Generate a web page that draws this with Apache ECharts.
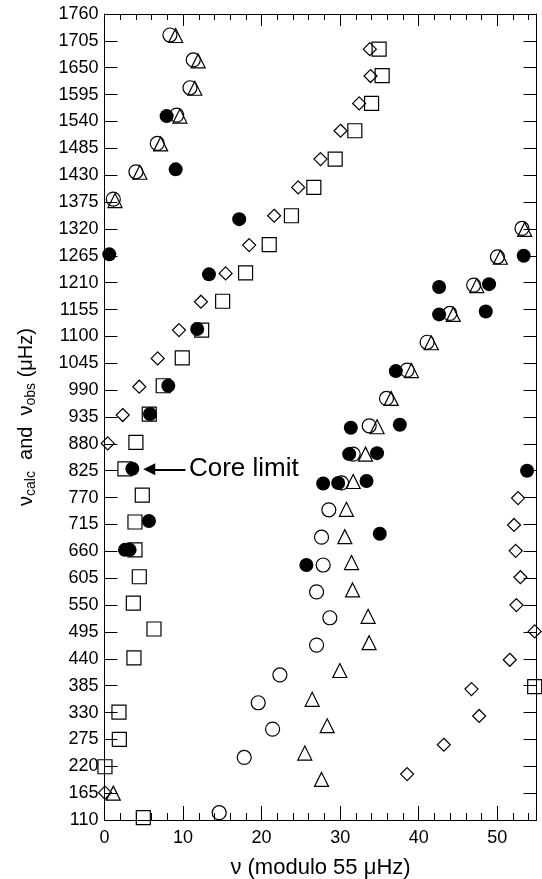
<!DOCTYPE html>
<html>
<head>
<meta charset="utf-8">
<script src="https://cdn.jsdelivr.net/npm/echarts@6/dist/echarts.min.js"></script>
<style>
html,body{margin:0;padding:0;background:#fff;}
#chart{width:542px;height:879px;}
</style>
</head>
<body>
<div id="chart"></div>
<script>
// ---- data (x = nu modulo 55 uHz, y = nu in uHz) ----
const openCircles = [
  [8.33,1717],[11.3,1666],[10.88,1609],[9.19,1553],[6.72,1495],[4.0,1437],[1.12,1381],
  [53.15,1321],[50.03,1263],[47.0,1205],[43.96,1147],[41.07,1088],[38.53,1031],[35.9,973],
  [33.7,917],[31.66,859],[30.18,800],[28.56,745],[27.63,689],[27.84,632],[27.0,577],
  [28.69,524],[27.0,468],[22.33,407],[19.57,350],[21.4,296],[17.79,238],[14.6,125]
];
const openTriangles = [
  [9.06,1716],[11.93,1664],[11.5,1608],[9.6,1551],[7.15,1494],[4.5,1436],[1.34,1378],
  [53.5,1319],[50.4,1262],[47.4,1204],[44.4,1145],[41.6,1087],[39.08,1030],[36.5,973],
  [34.7,915],[33.23,859],[31.66,803],[30.8,746],[30.6,690],[31.45,637],[31.58,581],
  [33.56,527],[33.69,473],[29.96,416],[26.44,357],[28.35,303],[25.5,247],[27.63,193],[1.12,165]
];
const openDiamonds = [
  [33.78,1688],[33.87,1633],[32.42,1577],[30.05,1521],[27.5,1463],[24.66,1405],[21.6,1347],
  [18.42,1287],[15.42,1229],[12.28,1171],[9.48,1113],[6.77,1055],[4.43,997],[2.32,939],[0.41,881],
  [52.65,769],[52.14,714],[52.35,661],[52.95,607],[52.44,550],[54.77,496],[51.6,438],
  [46.72,378],[47.7,323],[43.2,264],[38.53,204],[0.06,166]
];
const openSquares = [
  [34.96,1688],[35.35,1634],[34.0,1577],[31.87,1521],[29.37,1463],[26.65,1405],[23.8,1347],
  [20.97,1288],[17.96,1230],[15.04,1172],[12.37,1113],[9.9,1056],[7.48,999],[5.7,941],[4.0,883],
  [2.6,829],[4.81,775],[3.88,720],[3.88,663],[4.43,608],[3.67,554],[6.3,501],[3.75,442],
  [1.84,331],[1.89,275],[0.06,219],[4.94,115],[54.77,383]
];
const filledCircles = [
  [7.91,1551],[9.06,1442],[17.15,1340],[0.61,1268],[13.3,1227],[53.37,1265],[48.96,1207],
  [42.6,1201],[42.6,1145],[48.54,1151],[11.8,1115],[37.09,1029],[8.12,999],[5.79,941],
  [31.36,913],[37.6,919],[31.15,859],[34.7,861],[3.54,829],[53.8,825],[27.84,799],[29.75,800],
  [33.36,804],[5.66,722],[35.05,696],[2.6,663],[3.2,663],[25.7,632]
];
const xTicks = [0,10,20,30,40,50];
const yMin = 110, yMax = 1760, yStep = 55;
const xMin = 0, xMax = 55;
const annotationText = 'Core limit';

const FONT = '"Liberation Sans", Arial, Helvetica, sans-serif';
const chart = echarts.init(document.getElementById('chart'));

function openSeries(data, symbol, size) {
  return {
    type: 'scatter', data: data, symbol: symbol, symbolSize: size,
    xAxisIndex: 0, yAxisIndex: 0, silent: true,
    itemStyle: { color: 'rgba(0,0,0,0)', borderColor: '#000', borderWidth: 1.2, opacity: 1 }
  };
}
const tickStyle = { color: '#000', width: 1 };

const option = {
  animation: false,
  backgroundColor: '#fff',
  grid: { left: 104.5, right: 5.5, top: 14, bottom: 59, containLabel: false, outerBoundsMode: 'none' },
  xAxis: [
    { type: 'value', min: xMin, max: xMax, interval: 10, position: 'bottom',
      axisLine: { show: true, onZero: false, lineStyle: tickStyle },
      axisTick: { show: true, inside: true, length: 14, lineStyle: tickStyle },
      splitLine: { show: false },
      axisLabel: { show: true, margin: 9, fontSize: 18, color: '#000', fontFamily: FONT,
        formatter: v => (xTicks.indexOf(v) >= 0 ? String(v) : '') },
      name: 'ν (modulo 55 μHz)', nameLocation: 'middle', nameGap: 37,
      nameTextStyle: { fontSize: 22, color: '#000', fontFamily: FONT } },
    { type: 'value', min: xMin, max: xMax, interval: 2, position: 'bottom',
      axisLine: { show: false }, axisLabel: { show: false }, splitLine: { show: false },
      axisTick: { show: true, inside: true, length: 7, lineStyle: tickStyle } },
    { type: 'value', min: xMin, max: xMax, interval: 10, position: 'top',
      axisLine: { show: true, onZero: false, lineStyle: tickStyle },
      axisTick: { show: true, inside: true, length: 12, lineStyle: tickStyle },
      axisLabel: { show: false }, splitLine: { show: false } },
    { type: 'value', min: xMin, max: xMax, interval: 2, position: 'top',
      axisLine: { show: false }, axisLabel: { show: false }, splitLine: { show: false },
      axisTick: { show: true, inside: true, length: 6, lineStyle: tickStyle } }
  ],
  yAxis: [
    { type: 'value', min: yMin, max: yMax, interval: yStep, position: 'left',
      axisLine: { show: true, onZero: false, lineStyle: tickStyle },
      axisTick: { show: true, inside: true, length: 13, lineStyle: tickStyle },
      splitLine: { show: false },
      axisLabel: { show: true, margin: 6, fontSize: 18, color: '#000', fontFamily: FONT, interval: 0,
        formatter: v => String(v) },
      name: '{n|ν}{s|calc}{n|  and  ν}{s|obs}{n| (μHz)}',
      nameLocation: 'middle', nameRotate: 90, nameGap: 66,
      nameTextStyle: { color: '#000', fontFamily: FONT,
        rich: {
          n: { fontSize: 20, lineHeight: 22, verticalAlign: 'top', fontFamily: FONT, color: '#000' },
          s: { fontSize: 14, lineHeight: 16, verticalAlign: 'bottom', padding: [10, 0, 0, 0], fontFamily: FONT, color: '#000' }
        } } },
    { type: 'value', min: yMin, max: yMax, interval: yStep, position: 'right',
      axisLine: { show: true, onZero: false, lineStyle: tickStyle },
      axisTick: { show: true, inside: true, length: 13, lineStyle: tickStyle },
      axisLabel: { show: false }, splitLine: { show: false } }
  ],
  series: [
    openSeries(openSquares, 'rect', 14),
    openSeries(openDiamonds, 'diamond', 13),
    openSeries(openCircles, 'circle', 14),
    openSeries(openTriangles, 'triangle', 14),
    { type: 'scatter', data: filledCircles, symbol: 'circle', symbolSize: 14,
      xAxisIndex: 0, yAxisIndex: 0, silent: true,
      itemStyle: { color: '#000', opacity: 1 },
      markLine: {
        silent: true, symbol: ['none', 'triangle'], symbolSize: 12,
        lineStyle: { color: '#000', width: 2, type: 'solid', opacity: 1 },
        itemStyle: { color: '#000' },
        label: { show: false },
        data: [[ { coord: [10.3, 828] }, { coord: [5.7, 828] } ]]
      },
      markPoint: {
        silent: true, symbol: 'circle', symbolSize: 0,
        label: { show: true, position: 'right', distance: 0, formatter: annotationText,
          fontSize: 26, color: '#000', fontFamily: FONT },
        data: [ { coord: [10.75, 828] } ]
      }
    }
  ]
};
chart.setOption(option);
</script>
</body>
</html>
